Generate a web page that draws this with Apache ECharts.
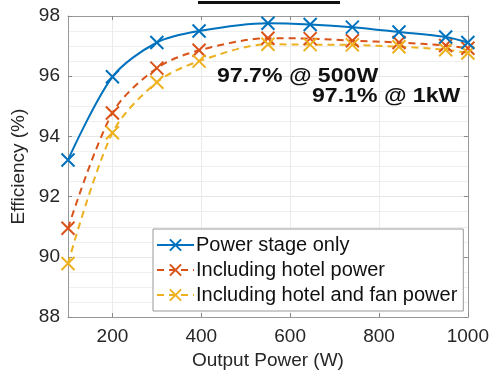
<!DOCTYPE html>
<html>
<head>
<meta charset="utf-8">
<script src="https://cdn.jsdelivr.net/npm/echarts@6/dist/echarts.min.js"></script>
<style>
  html, body { margin: 0; padding: 0; background: #fff; }
  #chart { width: 492px; height: 375px; }
</style>
</head>
<body>
<div id="chart"></div>
<script>
// output power (W) for each measurement
const powerW = [100, 200, 300, 395, 550, 645, 740, 845, 950, 1000]
// efficiency (%)
const powerStageOnly = [93.22, 95.98, 97.12, 97.5, 97.76, 97.72, 97.63, 97.47, 97.3, 97.12]
const withHotel = [90.95, 94.78, 96.27, 96.86, 97.26, 97.25, 97.18, 97.12, 97.02, 96.93]
const withHotelFan = [89.78, 94.12, 95.8, 96.5, 97.06, 97.05, 97.04, 96.98, 96.88, 96.77]

const seriesNames = ['Power stage only', 'Including hotel power', 'Including hotel and fan power']
const xTickLabels = [200, 400, 600, 800, 1000]
const yTickLabels = [88, 90, 92, 94, 96, 98]
const notes = ['97.7% @ 500W', '97.1% @ 1kW']

const colors = ['#0072BD', '#D95319', '#EDB120']
const font = '"Liberation Sans", Arial, sans-serif'
const crossPath = 'path://M0 0L10 10M10 0L0 10'

const chart = echarts.init(document.getElementById('chart'), null, { renderer: 'canvas' })

const makeSeries = (name, values, color, dashed) => ({
  name,
  type: 'line',
  data: powerW.map((p, i) => [p, values[i]]),
  smooth: 0.3,
  symbol: crossPath,
  symbolSize: 13,
  itemStyle: { color: color, borderColor: color, borderWidth: 2 },
  lineStyle: { color: color, width: 2, type: dashed ? [7, 5] : 'solid' },
  emphasis: { disabled: true },
  z: dashed ? 2 : 3,
})

const option = {
  animation: false,
  backgroundColor: '#fff',
  textStyle: { fontFamily: font },
  grid: { left: 68, right: 24, top: 16, bottom: 57 },
  xAxis: [
    {
      type: 'value',
      min: 100,
      max: 1000,
      interval: 50,
      name: 'Output Power (W)',
      nameLocation: 'middle',
      nameGap: 33,
      nameTextStyle: { fontSize: 19, color: '#262626', fontFamily: font },
      axisLine: { onZero: false, lineStyle: { color: '#999', width: 1 } },
      axisTick: { inside: true, length: 4, customValues: xTickLabels, lineStyle: { color: '#888' } },
      axisLabel: { customValues: xTickLabels, fontSize: 19, color: '#262626', margin: 10,
        formatter: v => String(v) },
      splitLine: { show: true, lineStyle: { color: '#ebebeb', width: 1 } },
    },
    {
      type: 'value',
      position: 'top',
      min: 100,
      max: 1000,
      interval: 50,
      axisLine: { onZero: false, lineStyle: { color: '#999', width: 1 } },
      axisTick: { inside: true, length: 4, customValues: xTickLabels, lineStyle: { color: '#888' } },
      axisLabel: { show: false },
      splitLine: { show: false },
    },
  ],
  yAxis: [
    {
      type: 'value',
      min: 88,
      max: 98,
      interval: 2,
      name: 'Efficiency (%)',
      nameLocation: 'middle',
      nameGap: 32,
      nameTextStyle: { fontSize: 19, color: '#262626', fontFamily: font },
      axisLine: { show: true, onZero: false, lineStyle: { color: '#999', width: 1 } },
      axisTick: { show: true, inside: true, length: 4, lineStyle: { color: '#888' } },
      axisLabel: { fontSize: 19, color: '#262626', margin: 8,
        formatter: v => yTickLabels.includes(v) ? String(v) : '' },
      splitLine: { show: true, lineStyle: { color: '#e6e6e6', width: 1 } },
      minorTick: { show: false, splitNumber: 4 },
      minorSplitLine: { show: true, lineStyle: { color: '#efefef', width: 1 } },
    },
    {
      type: 'value',
      position: 'right',
      min: 88,
      max: 98,
      interval: 2,
      axisLine: { show: true, onZero: false, lineStyle: { color: '#999', width: 1 } },
      axisTick: { show: true, inside: true, length: 4, lineStyle: { color: '#888' } },
      axisLabel: { show: false },
      splitLine: { show: false },
    },
  ],
  legend: {
    orient: 'vertical',
    left: 153,
    top: 229,
    padding: [6, 6, 6, 3],
    itemGap: 5,
    itemWidth: 37,
    itemHeight: 14,
    backgroundColor: '#fff',
    borderColor: '#999',
    borderWidth: 1,
    borderRadius: 0,
    textStyle: { fontSize: 20, color: '#111', fontFamily: font, padding: [0, 0, 0, -3] },
    data: seriesNames,
  },
  series: [
    makeSeries(seriesNames[0], powerStageOnly, colors[0], false),
    makeSeries(seriesNames[1], withHotel, colors[1], true),
    makeSeries(seriesNames[2], withHotelFan, colors[2], true),
  ],
  graphic: [
    // clipped underline of the title above the plot
    { type: 'rect', shape: { x: 198, y: 1, width: 142, height: 3 }, style: { fill: '#111' } },
    {
      type: 'text', x: 217, y: 76, scaleX: 1.1, z: 10,
      style: { text: notes[0], font: 'bold 21px ' + font, fill: '#111', verticalAlign: 'middle' },
    },
    {
      type: 'text', x: 312, y: 96, scaleX: 1.1, z: 10,
      style: { text: notes[1], font: 'bold 21px ' + font, fill: '#111', verticalAlign: 'middle' },
    },
  ],
}

chart.setOption(option)
</script>
</body>
</html>
